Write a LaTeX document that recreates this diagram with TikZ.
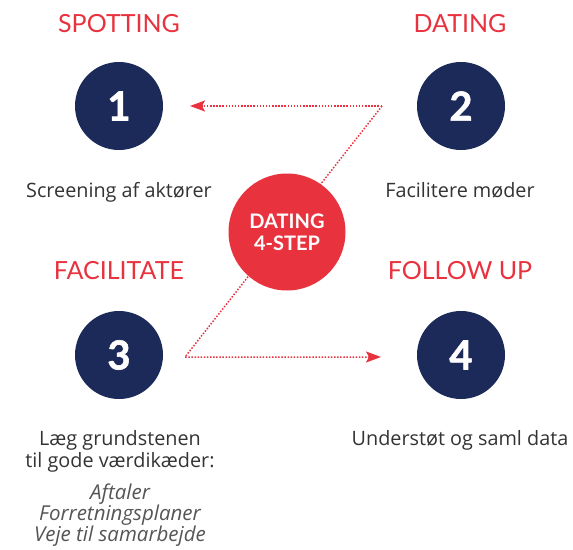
\documentclass[tikz,border=0pt]{standalone}
\usepackage{fontspec}
\setmainfont{Lato}
\newfontfamily\bodyfont{Open Sans}
\newfontfamily\digitfont{Lato}[BoldFeatures={FakeBold=1.5}]
\usetikzlibrary{arrows.meta}
\definecolor{navy}{HTML}{1B2A58}
\definecolor{accent}{HTML}{E8333F}
\definecolor{txt}{HTML}{333333}
\definecolor{subtxt}{HTML}{555555}
\begin{document}
\begin{tikzpicture}[x=1pt,y=-1pt,
  step circle/.style={circle,fill=navy,minimum size=88pt,inner sep=0pt,text=white,font=\digitfont\bfseries\fontsize{40}{40}\selectfont},
  title/.style={anchor=base,text=accent,font=\fontsize{25}{25}\selectfont,inner sep=0pt},
  body/.style={anchor=base,text=txt,font=\bodyfont\fontsize{19.8}{22}\selectfont,inner sep=0pt,align=center},
  sub/.style={anchor=base,text=subtxt,font=\bodyfont\itshape\fontsize{20.5}{21}\selectfont,inner sep=0pt,align=center},
  link/.style={accent,line width=1.5pt,dash pattern=on 1.5pt off 1.6pt},
  tip/.style={-{Stealth[length=15pt,width=11pt,inset=3pt]}}
]
\useasboundingbox (0,0) rectangle (573,549);
% connectors first (behind)
\coordinate (tr) at (382,106);
\coordinate (bl) at (185,357);
\coordinate (ta) at (190,106);
\coordinate (ba) at (381,357);
\draw[link,tip] (tr) -- (ta);
\draw[link,tip] (tr) -- (bl) -- (ba);
% step circles
\node[step circle] (s1) at (119,106) {1};
\node[step circle] (s2) at (461,106) {2};
\node[step circle] (s3) at (119,355) {3};
\node[step circle] (s4) at (461,355) {4};
% center
\node[circle,fill=accent,minimum size=117pt,inner sep=0pt,text=white,align=center,font=\bfseries\fontsize{20}{22}\selectfont] (c) at (287,232) {DATING\\4-STEP};
% titles
\node[title] (t1) at (119,32) {SPOTTING};
\node[title] (t2) at (460,32) {DATING};
\node[title] (t3) at (119,279) {FACILITATE};
\node[title] (t4) at (460,279) {FOLLOW UP};
% bodies
\node[body] (b1) at (119,197) {Screening af aktører};
\node[body] (b2) at (460,197) {Facilitere møder};
\node[body] (b3) at (120,467) {Læg grundstenen\\til gode værdikæder:};
\node[sub] (b3s) at (120,541) {Aftaler\\Forretningsplaner\\Veje til samarbejde};
\node[body] (b4) at (460,445) {Understøt og saml data};
\end{tikzpicture}
\end{document}
